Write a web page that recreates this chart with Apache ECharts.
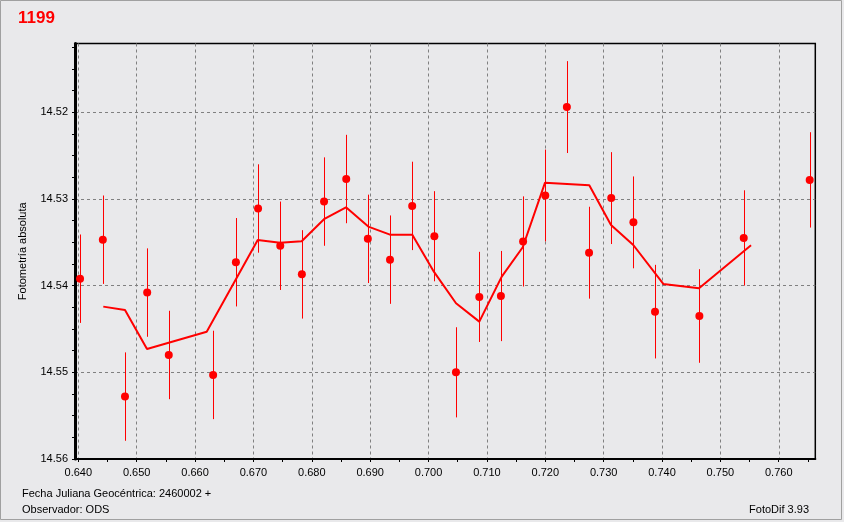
<!DOCTYPE html>
<html>
<head>
<meta charset="utf-8">
<script src="https://cdn.jsdelivr.net/npm/echarts@6/dist/echarts.min.js"></script>
<style>
html,body{margin:0;padding:0;background:#e9e9eb;}
#chart{width:844px;height:522px;}
</style>
</head>
<body>
<div id="chart"></div>
<script>
// Observations (x = JD - 2460002, y = magnitude, err = error)
var obsX = [0.6403,0.6442,0.6480,0.6518,0.6555,0.6631,0.6670,0.6708,0.6746,0.6783,0.6821,0.6859,0.6896,0.6934,0.6972,0.7010,0.7047,0.7087,0.7124,0.7162,0.7200,0.7237,0.7275,0.7313,0.7351,0.7388,0.7464,0.7540,0.7653];
var obsY = [14.5392,14.5347,14.5528,14.5408,14.5480,14.5503,14.5373,14.5311,14.5354,14.5387,14.5303,14.5277,14.5346,14.5370,14.5308,14.5343,14.5500,14.5413,14.5412,14.5349,14.5296,14.5194,14.5362,14.5299,14.5327,14.5430,14.5435,14.5345,14.5278];
var obsErr = [0.0051,0.0051,0.0051,0.0051,0.0051,0.0051,0.0051,0.0051,0.0051,0.0051,0.0051,0.0051,0.0051,0.0051,0.0051,0.0052,0.0052,0.0052,0.0052,0.0052,0.0053,0.0053,0.0053,0.0053,0.0053,0.0054,0.0054,0.0055,0.0055];
// Running mean curve
var meanX = [0.64428,0.64800,0.65177,0.66200,0.67074,0.67456,0.67827,0.68209,0.68586,0.68968,0.69340,0.69722,0.70094,0.70471,0.70870,0.71254,0.71614,0.71996,0.72373,0.72754,0.73126,0.73508,0.74022,0.74634,0.75525];
var meanY = [14.54242,14.54280,14.54730,14.54531,14.53473,14.53504,14.53488,14.53234,14.53096,14.53319,14.53412,14.53412,14.53842,14.54203,14.54415,14.53896,14.53557,14.52812,14.52827,14.52842,14.53300,14.53531,14.53980,14.54030,14.53534];

var titleText = '1199';
var yName = 'Fotometría absoluta';
var footer1 = 'Fecha Juliana Geocéntrica: 2460002 +';
var footer2 = 'Observador: ODS';
var footer3 = 'FotoDif 3.93';

var FONT = '"Liberation Sans", Arial, sans-serif';

var pts = obsX.map(function (x, i) { return [x, obsY[i]]; });
var errs = obsX.map(function (x, i) { return [x, obsY[i], obsErr[i]]; });
var mean = meanX.map(function (x, i) { return [x, meanY[i]]; });

var chart = echarts.init(document.getElementById('chart'), null, {renderer: 'canvas'});
function gridLine(showMin, showMax) {
  return {show: true, showMinLine: showMin, showMaxLine: showMax, lineStyle: {color: '#808080', type: [3, 3], width: 1}};
}

chart.setOption({
  backgroundColor: '#e9e9eb',
  animation: false,
  graphic: [
    {type: 'rect', shape: {x: 0.5, y: 0.5, width: 841, height: 519}, style: {fill: 'none', stroke: '#a0a0a0', lineWidth: 1}, z: -1},
    {type: 'text', left: 18, top: 10, style: {text: titleText, fill: '#ff0000', font: 'bold 17px ' + FONT}},
    {type: 'text', left: 22, top: 488, style: {text: footer1, fill: '#000', font: '11px ' + FONT}},
    {type: 'text', left: 22, top: 504, style: {text: footer2, fill: '#000', font: '11px ' + FONT}},
    {type: 'text', right: 35, top: 504, style: {text: footer3, fill: '#000', font: '11px ' + FONT}}
  ],
  grid: [
    {left: 75, right: 28.7, top: 43.5, bottom: 63, show: true, borderColor: '#000', borderWidth: 1.5, backgroundColor: 'transparent'},
    {left: 78.3, right: 36.1, top: 43.5, bottom: 63},
    {left: 75, right: 28.7, top: 47.3, bottom: 63}
  ],
  xAxis: [
    {type: 'value', gridIndex: 0, min: 0.639435, max: 0.76626, minInterval: 0.01, maxInterval: 0.01,
     axisLine: {show: true, onZero: false, lineStyle: {color: '#000', width: 2}},
     axisTick: {show: false},
     axisLabel: {show: true, color: '#000', fontSize: 11, fontFamily: FONT, margin: 8, showMinLabel: false, showMaxLabel: false,
                 formatter: function (v) { return v.toFixed(3); }},
     splitLine: gridLine(false, false)},
    {type: 'value', gridIndex: 1, min: 0.640, max: 0.765, interval: 0.005,
     axisLine: {show: false, onZero: false}, axisTick: {show: true, length: 3, lineStyle: {color: '#000'}},
     axisLabel: {show: false}, splitLine: {show: false}},
    {type: 'value', gridIndex: 2, min: 0, max: 1, show: false}
  ],
  yAxis: [
    {type: 'value', gridIndex: 0, inverse: true, min: 14.512065, max: 14.56, minInterval: 0.01, maxInterval: 0.01,
     name: yName, nameLocation: 'middle', nameGap: 47, nameRotate: 90,
     nameTextStyle: {color: '#000', fontSize: 11, fontFamily: FONT},
     axisLine: {show: true, onZero: false, lineStyle: {color: '#000', width: 3}},
     axisTick: {show: false},
     axisLabel: {show: true, color: '#000', fontSize: 11, fontFamily: FONT, margin: 7, showMinLabel: false,
                 formatter: function (v) { return v.toFixed(2); }},
     splitLine: gridLine(false, true)},
    {type: 'value', gridIndex: 1, min: 0, max: 1, show: false},
    {type: 'value', gridIndex: 2, inverse: true, min: 14.5125, max: 14.56, interval: 0.0025,
     axisLine: {show: false, onZero: false}, axisTick: {show: true, length: 3, lineStyle: {color: '#000'}},
     axisLabel: {show: false}, splitLine: {show: false}}
  ],
  series: [
    {type: 'custom', xAxisIndex: 0, yAxisIndex: 0, data: errs, z: 2, clip: true,
     renderItem: function (params, api) {
       var x = api.value(0), y = api.value(1), e = api.value(2);
       var p1 = api.coord([x, y - e]);
       var p2 = api.coord([x, y + e]);
       var px = Math.round(p1[0]) + 0.5;
       return {type: 'line', shape: {x1: px, y1: p1[1], x2: px, y2: p2[1]}, style: {stroke: '#ff0000', lineWidth: 1}};
     }},
    {type: 'line', xAxisIndex: 0, yAxisIndex: 0, data: mean, showSymbol: false, symbol: 'none', z: 3,
     lineStyle: {color: '#ff0000', width: 2}},
    {type: 'scatter', xAxisIndex: 0, yAxisIndex: 0, data: pts, symbol: 'circle', symbolSize: 8, z: 4,
     itemStyle: {color: '#ff0000', opacity: 1}}
  ]
});
</script>
</body>
</html>
